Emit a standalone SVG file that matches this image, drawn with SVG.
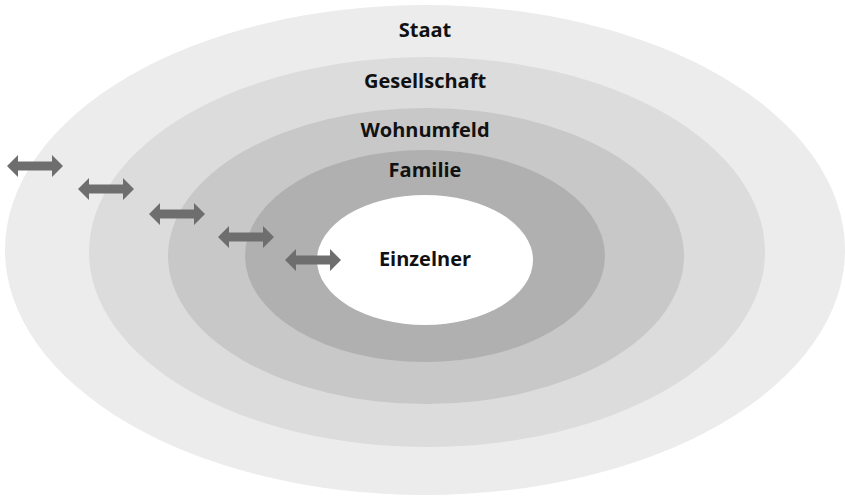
<svg xmlns="http://www.w3.org/2000/svg" width="845" height="500" viewBox="0 0 845 500">
<defs>
<style>
.lbl{font-family:"Open Sans","Noto Sans","Liberation Sans",sans-serif;font-weight:700;font-size:20px;fill:#111;text-anchor:middle}
.arr{fill:#6e6e6e}
</style>
<path id="dbl" d="M0,0 L11,-11 L11,-4.5 L45,-4.5 L45,-11 L56,0 L45,11 L45,4.5 L11,4.5 L11,11 Z"/>
</defs>
<rect width="845" height="500" fill="#ffffff"/>
<g id="staat"><ellipse cx="425" cy="250" rx="420" ry="245" fill="#ececec"/><text class="lbl" x="425" y="37">Staat</text></g>
<g id="gesellschaft"><ellipse cx="427" cy="252" rx="338" ry="195" fill="#dcdcdc"/><text class="lbl" x="425" y="88">Gesellschaft</text></g>
<g id="wohnumfeld"><ellipse cx="426" cy="256" rx="258" ry="148" fill="#c8c8c8"/><text class="lbl" x="425" y="137">Wohnumfeld</text></g>
<g id="familie"><ellipse cx="425" cy="256" rx="180" ry="106" fill="#b0b0b1"/><text class="lbl" x="425" y="177">Familie</text></g>
<g id="einzelner"><ellipse cx="425" cy="260" rx="108" ry="65" fill="#ffffff"/><text class="lbl" x="425" y="266">Einzelner</text></g>
<g id="connectors" class="arr">
<use href="#dbl" x="7" y="166"/>
<use href="#dbl" x="78" y="189"/>
<use href="#dbl" x="149" y="214"/>
<use href="#dbl" x="218" y="237"/>
<use href="#dbl" x="285" y="260"/>
</g>
</svg>
